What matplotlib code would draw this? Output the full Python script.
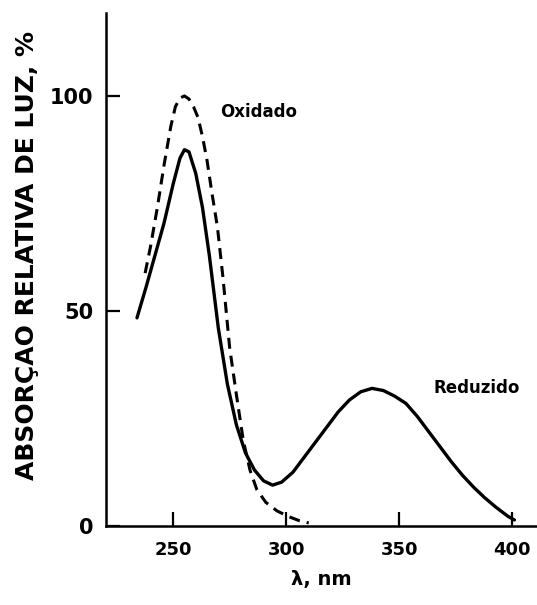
import matplotlib.pyplot as plt

# Reduzido (solid curve)
red_nm = [234, 238, 242, 246, 250, 253, 255, 257, 260, 263, 266, 270, 274, 278,
          282, 286, 290, 294, 298, 303, 308, 313, 318, 323, 328, 333, 338, 343,
          348, 353, 358, 363, 368, 373, 378, 383, 388, 393, 398, 401]
red_abs = [48.4, 55.5, 63, 70.5, 79.5, 85.5, 87.5, 87, 82, 74, 63, 46, 33, 23.5,
           17, 13, 10.5, 9.5, 10.2, 12.5, 16, 19.5, 23, 26.5, 29.3, 31.2, 32, 31.5,
           30.2, 28.5, 25.5, 22, 18.5, 15, 11.8, 9, 6.5, 4.3, 2.3, 1.4]

# Oxidado (dashed curve)
oxi_nm = [237.6, 240, 243, 246, 249, 251, 253, 255, 257, 259, 261, 263, 265, 267,
          269.6, 272, 275, 278, 281, 284, 287, 291, 296, 301, 306, 310]
oxi_abs = [58.8, 65, 74, 84, 93, 97.5, 99.5, 100, 99.3, 97.5, 95, 90.5, 85, 78,
           69.5, 58, 41.5, 30.5, 20, 13, 8.5, 5.5, 3.5, 2.2, 1.2, 0.7]

x_ticks = [250, 300, 350, 400]
y_ticks = [0, 50, 100]

fig = plt.figure(figsize=(5.37, 6.05), dpi=100)
ax = fig.add_axes([0.197, 0.1306, 0.803, 0.848])

ax.plot(red_nm, red_abs, color='black', lw=2.4, solid_capstyle='round',
        solid_joinstyle='round')
ax.plot(oxi_nm, oxi_abs, color='black', lw=2.2, linestyle=(0, (3.6, 2.3)))

ax.text(270.9, 96.3, 'Oxidado', fontsize=12, fontweight='bold', va='center')
ax.text(365, 32, 'Reduzido', fontsize=12, fontweight='bold', va='center')

ax.set_xlim(220.2, 411)
ax.set_ylim(0, 119.3)
ax.set_xticks(x_ticks)
ax.set_yticks(y_ticks)
ax.tick_params(direction='in', length=10, width=1.6)
ax.tick_params(axis='x', labelsize=13, pad=11)
ax.tick_params(axis='y', labelsize=15, pad=9)
for lab in ax.get_xticklabels() + ax.get_yticklabels():
    lab.set_fontweight('bold')

for side in ['top', 'right']:
    ax.spines[side].set_visible(False)
for side in ['left', 'bottom']:
    ax.spines[side].set_linewidth(1.8)

ax.set_ylabel('ABSORÇAO RELATIVA DE LUZ, %', fontsize=18, fontweight='bold')
ax.yaxis.set_label_coords(-0.155, 0.527)
ax.set_xlabel('λ, nm', fontsize=14, fontweight='bold', labelpad=8)

plt.savefig('out.png', dpi=100)
